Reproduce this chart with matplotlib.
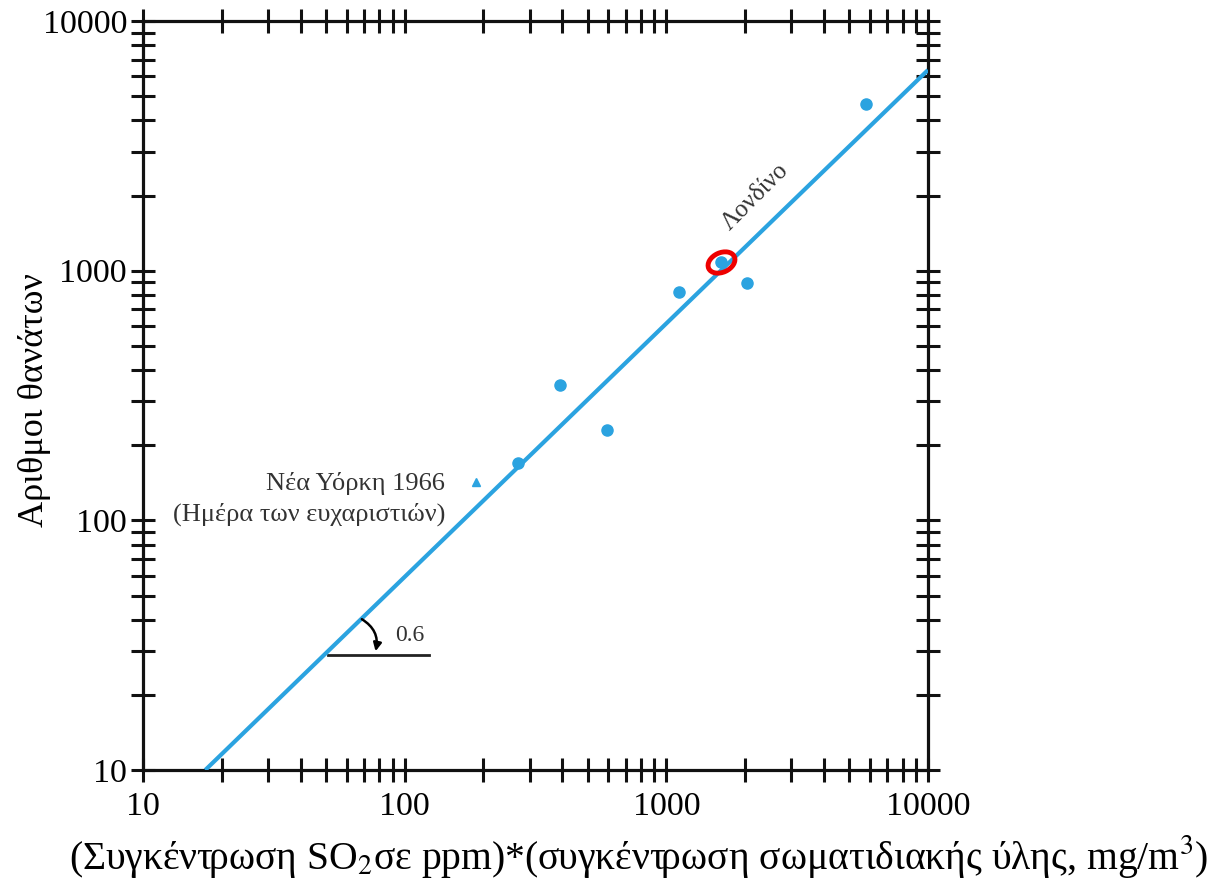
import matplotlib
matplotlib.use("Agg")
import matplotlib.pyplot as plt
from matplotlib.path import Path
from matplotlib.transforms import Affine2D
from matplotlib.ticker import LogLocator, NullFormatter, FixedLocator, FixedFormatter

plt.rcParams['font.family'] = ['Liberation Serif', 'DejaVu Serif']
plt.rcParams['mathtext.fontset'] = 'stix'

# Data
x_circles = [270, 394, 595, 1122, 1622, 2037, 5800]
y_circles = [169, 350, 231, 824, 1086, 895, 4655]
x_triangle = [188]
y_triangle = [142]
highlight_x = [1622]
highlight_y = [1086]
fit_x = [17.3, 10000]
fit_y = [10, 6370]
slope_base_x = [50.8, 124]
slope_base_y = [29, 29]
tick_values = [10, 100, 1000, 10000]
tick_labels = ['10', '100', '1000', '10000']

blue = '#2ba3e0'

fig = plt.figure(figsize=(12.14, 8.8), dpi=100)
ax = fig.add_axes([0.1178, 0.125, 0.6466, 0.851])
ax.set_xscale('log')
ax.set_yscale('log')
ax.set_xlim(10, 10000)
ax.set_ylim(10, 10000)

ax.plot(fit_x, fit_y, color=blue, lw=3, solid_capstyle='butt', zorder=3, clip_on=True)
ax.plot(x_circles, y_circles, 'o', color=blue, ms=8, zorder=4)
ax.plot(x_triangle, y_triangle, '^', color=blue, ms=6, zorder=4)

# red hand-drawn ellipse around a point
ell = Path.unit_circle().transformed(Affine2D().scale(1.45, 1.0).rotate_deg(25))
ax.plot(highlight_x, highlight_y, linestyle='none', marker=ell, ms=20, mfc='none',
        mec='#ee0000', mew=3.5, zorder=5)

# slope indicator
ax.plot(slope_base_x, slope_base_y, color='#222222', lw=2, zorder=2)
ax.annotate('', xy=(77.4, 29.9), xytext=(68.6, 40.2),
            arrowprops=dict(arrowstyle='-|>', color='black', lw=1.8,
                            connectionstyle='arc3,rad=-0.35', mutation_scale=12,
                            shrinkA=0, shrinkB=0))
ax.text(105, 34.5, '0.6', fontsize=17, ha='center', va='center', color='#333333')

ax.text(2188, 1977, 'Λονδίνο', fontsize=18, rotation=45, ha='center', va='center',
        rotation_mode='anchor', color='#333333')
ax.text(143, 122, 'Νέα Υόρκη 1966\n(Ημέρα των ευχαριστιών)', fontsize=19,
        ha='right', va='center', multialignment='right', color='#333333',
        linespacing=1.45)

for s in ax.spines.values():
    s.set_linewidth(2.3)
    s.set_color('#111111')

ax.xaxis.set_major_locator(FixedLocator(tick_values))
ax.xaxis.set_major_formatter(FixedFormatter(tick_labels))
ax.yaxis.set_major_locator(FixedLocator(tick_values))
ax.yaxis.set_major_formatter(FixedFormatter(tick_labels))
for axis in (ax.xaxis, ax.yaxis):
    axis.set_minor_locator(LogLocator(base=10, subs=range(2, 10)))
    axis.set_minor_formatter(NullFormatter())

ax.tick_params(which='both', direction='inout', length=17, width=2.2, color='#111111',
               top=True, right=True, labelsize=24.5)
ax.tick_params(axis='x', which='major', pad=7)
ax.tick_params(axis='y', which='major', pad=3)

fig.text(639 / 1214, 1 - 856 / 880,
         '(Συγκέντρωση SO$_2$σε ppm)*(συγκέντρωση σωματιδιακής ύλης, mg/m$^3$)',
         fontsize=28.5, ha='center', va='center')
fig.text(35 / 1214, 1 - 400 / 880, 'Αριθμοι θανάτων', fontsize=26,
         rotation=90, ha='center', va='center')

fig.savefig('out.png', dpi=100, facecolor='white')
